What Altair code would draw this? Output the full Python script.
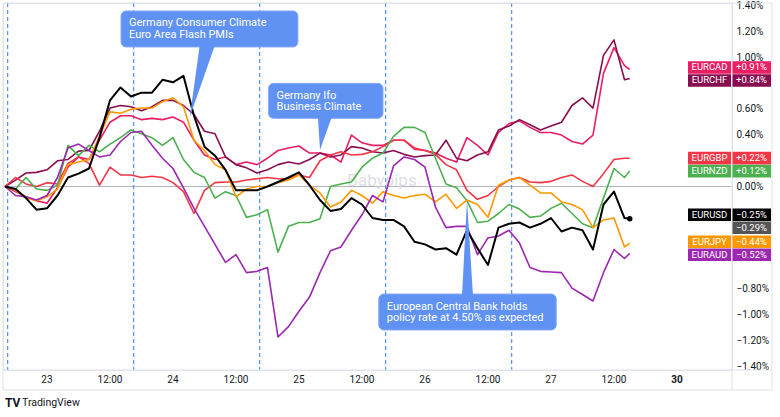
import pandas as pd
import altair as alt

# ---------------- data (hours from 23rd 00:00, trading time; values in %) ----------------
hours = list(range(-8, 111, 2)) + [111]

pairs = ["EURCAD", "EURCHF", "EURGBP", "EURNZD", "EURJPY", "EURAUD", "EURUSD"]
colors = ["#E91E63", "#880E4F", "#F23645", "#4CAF50", "#FF9800", "#9C27B0", "#000000"]

eurusd = [0.00, -0.02, -0.09, -0.18, -0.17, -0.07, 0.07, 0.10, 0.14, 0.38,
          0.67, 0.77, 0.70, 0.73, 0.73, 0.83, 0.81, 0.86, 0.55, 0.31,
          0.24, 0.13, -0.03, -0.03, -0.03, 0.00, 0.035, 0.07, 0.11, 0.01,
          -0.105, -0.19, -0.175, -0.09, -0.14, -0.245, -0.26, -0.26, -0.31, -0.43,
          -0.45, -0.49, -0.48, -0.53, -0.34, -0.48, -0.61, -0.32, -0.29, -0.28,
          -0.32, -0.29, -0.245, -0.35, -0.32, -0.34, -0.49, -0.14, -0.04, -0.245,
          -0.25]
eurjpy = [0.00, -0.03, -0.09, -0.11, -0.08, -0.02, 0.17, 0.19, 0.21, 0.39,
          0.58, 0.57, 0.60, 0.61, 0.61, 0.66, 0.69, 0.62, 0.36, 0.28,
          0.17, 0.13, -0.08, -0.02, 0.00, 0.00, 0.03, 0.05, 0.09, 0.01,
          -0.05, -0.16, -0.12, -0.03, -0.07, -0.13, -0.04, -0.07, -0.09, -0.07,
          -0.06, -0.12, -0.06, -0.17, -0.105, -0.14, -0.24, 0.01, 0.05, 0.07,
          0.01, -0.05, -0.05, -0.12, -0.14, -0.18, -0.32, -0.26, -0.245, -0.47,
          -0.44]
euraud = [0.00, -0.07, -0.08, -0.105, -0.07, 0.07, 0.30, 0.33, 0.28, 0.23,
          0.245, 0.35, 0.42, 0.43, 0.32, 0.22, 0.14, -0.01, -0.17, -0.31,
          -0.45, -0.59, -0.53, -0.67, -0.66, -0.63, -1.17, -1.09, -0.97, -0.86,
          -0.67, -0.50, -0.47, -0.34, -0.22, -0.07, -0.12, 0.16, 0.23, 0.21,
          0.15, -0.16, -0.32, -0.31, -0.31, -0.53, -0.40, -0.385, -0.34, -0.44,
          -0.63, -0.66, -0.665, -0.67, -0.79, -0.84, -0.89, -0.67, -0.49, -0.56,
          -0.52]
eurnzd = [0.00, -0.02, 0.07, -0.02, -0.03, 0.01, 0.32, 0.24, 0.32, 0.27,
          0.33, 0.38, 0.44, 0.41, 0.38, 0.32, 0.38, 0.21, 0.11, 0.07,
          -0.09, -0.04, -0.07, -0.24, -0.22, -0.18, -0.51, -0.31, -0.28, -0.28,
          -0.25, 0.00, 0.02, 0.035, 0.15, 0.22, 0.26, 0.39, 0.46, 0.46,
          0.42, 0.22, 0.02, -0.01, -0.11, -0.28, -0.27, -0.21, -0.14, -0.175,
          -0.24, -0.23, -0.17, -0.13, -0.21, -0.29, -0.32, -0.09, 0.14, 0.07,
          0.12]
eurgbp = [0.00, 0.07, 0.02, 0.00, 0.03, 0.02, 0.18, 0.23, 0.18, 0.01,
          0.15, 0.09, 0.09, 0.07, 0.08, 0.07, 0.03, -0.04, -0.21, -0.03,
          0.03, 0.035, 0.035, 0.05, 0.06, 0.07, 0.06, 0.06, 0.09, 0.07,
          0.20, 0.245, 0.27, 0.245, 0.25, 0.27, 0.31, 0.36, 0.36, 0.30,
          0.28, 0.25, 0.17, 0.13, -0.03, -0.10, -0.07, 0.00, 0.05, 0.07,
          0.035, 0.03, 0.04, 0.07, 0.09, 0.04, 0.00, 0.10, 0.21, 0.22,
          0.22]
eurcad = [0.00, -0.04, -0.08, -0.11, -0.13, -0.01, 0.15, 0.23, 0.21, 0.36,
          0.50, 0.55, 0.55, 0.52, 0.53, 0.52, 0.54, 0.50, 0.36, 0.245,
          0.21, 0.23, 0.17, 0.19, 0.17, 0.22, 0.28, 0.30, 0.315, 0.26,
          0.26, 0.245, 0.19, 0.40, 0.34, 0.32, 0.32, 0.36, 0.36, 0.29,
          0.28, 0.26, 0.22, 0.19, 0.38, 0.32, 0.245, 0.42, 0.49, 0.51,
          0.46, 0.42, 0.42, 0.40, 0.35, 0.33, 0.40, 0.88, 1.08, 0.94,
          0.91]
eurchf = [0.00, 0.05, 0.105, 0.11, 0.13, 0.20, 0.21, 0.275, 0.28, 0.43,
          0.61, 0.63, 0.62, 0.59, 0.62, 0.67, 0.67, 0.63, 0.56, 0.43,
          0.41, 0.23, 0.17, 0.145, 0.105, 0.13, 0.17, 0.19, 0.175, 0.21,
          0.26, 0.23, 0.245, 0.31, 0.30, 0.27, 0.26, 0.28, 0.25, 0.23,
          0.24, 0.245, 0.36, 0.22, 0.20, 0.245, 0.27, 0.44, 0.47, 0.52,
          0.48, 0.44, 0.47, 0.50, 0.63, 0.69, 0.61, 1.02, 1.14, 0.83,
          0.84]

series = {"EURCAD": eurcad, "EURCHF": eurchf, "EURGBP": eurgbp, "EURNZD": eurnzd,
          "EURJPY": eurjpy, "EURAUD": euraud, "EURUSD": eurusd}

x_ticks = [0, 12, 24, 36, 48, 60, 72, 84, 96, 108, 120]
x_labels = ["23", "12:00", "24", "12:00", "25", "12:00", "26", "12:00", "27", "12:00", "30"]
y_ticks = [-1.4, -1.2, -1.0, -0.8, -0.6, -0.4, -0.2, 0.0, 0.2, 0.4, 0.6, 0.8, 1.0, 1.2, 1.4]
session_breaks = [-7.5, 16.5, 40.5, 64.5, 88.5]

label_names = ["EURCAD", "EURCHF", "EURGBP", "EURNZD", "EURUSD", "", "EURJPY", "EURAUD"]
label_values = [0.91, 0.84, 0.22, 0.12, -0.25, -0.29, -0.44, -0.52]
label_colors = ["#E91E63", "#880E4F", "#F23645", "#4CAF50", "#000000", "#555555", "#FF9800", "#9C27B0"]

note_lines = [["Germany Consumer Climate", "Euro Area Flash PMIs"],
              ["Germany Ifo", "Business Climate"],
              ["European Central Bank holds", "policy rate at 4.50% as expected"]]
note_box_x = [(14.1, 47.8), (42.2, 64.0), (63.2, 97.0)]
note_box_y = [(1.085, 1.365), (0.530, 0.802), (-1.116, -0.836)]
note_base_x = [(29.1, 32.0), (51.6, 54.3), (79.05, 81.15)]
note_tip = [(27.2, 0.54), (52.0, 0.284), (80.0, -0.105)]

# ---------------- layout ----------------
W, H = 729, 367
XMIN, XMAX = -8.38, 130.48
YMIN, YMAX = -1.427, 1.427
PX_H = W / (XMAX - XMIN)
PX_P = H / (YMAX - YMIN)
FONT = "Roboto"
CALLOUT = "#6092F4"
FRAME = "#E0E3EB"
AXIS_TXT = "#131722"

xs = alt.Scale(domain=[XMIN, XMAX], nice=False, zero=False)
ys = alt.Scale(domain=[YMIN, YMAX], nice=False, zero=False)


def X(f):
    return alt.X(f, scale=xs, axis=None)


def Y(f):
    return alt.Y(f, scale=ys, axis=None)


line_df = pd.DataFrame([{"h": h, "v": v, "pair": p}
                        for p in pairs for h, v in zip(hours, series[p])])
one = pd.DataFrame({"a": [0]})

zero_rule = alt.Chart(pd.DataFrame({"v": [0.0]})).mark_rule(color="#B2B5BE", strokeWidth=1).encode(
    y=Y("v:Q"))

sessions = alt.Chart(pd.DataFrame({"h": session_breaks})).mark_rule(
    color="#5B97F8", strokeDash=[4, 3], strokeWidth=1.3, opacity=1).encode(x=X("h:Q"))

watermark = alt.Chart(one).mark_text(text="Babypips", font=FONT, fontSize=17, color="#DDDFE3",
                                     align="center", baseline="middle").encode(
    x=alt.value(379), y=alt.value(178))

others = alt.Chart(line_df[line_df.pair != "EURUSD"]).mark_line(
    strokeWidth=1.6, strokeJoin="round").encode(
    x=X("h:Q"), y=Y("v:Q"),
    color=alt.Color("pair:N", scale=alt.Scale(domain=pairs, range=colors), legend=None))

usd_df = line_df[line_df.pair == "EURUSD"]
usd = alt.Chart(usd_df).mark_line(color="#000000", strokeWidth=2, strokeJoin="round").encode(
    x=X("h:Q"), y=Y("v:Q"))
usd_dot = alt.Chart(usd_df.tail(1)).mark_circle(color="#000000", size=30, opacity=1).encode(
    x=X("h:Q"), y=Y("v:Q"))

# callouts
box_df = pd.DataFrame({"x0": [b[0] for b in note_box_x], "x1": [b[1] for b in note_box_x],
                       "y0": [b[0] for b in note_box_y], "y1": [b[1] for b in note_box_y]})
boxes = alt.Chart(box_df).mark_rect(cornerRadius=5, fill=CALLOUT, stroke="#86ABF7", strokeWidth=1).encode(
    x=X("x0:Q"), x2="x1:Q", y=Y("y0:Q"), y2="y1:Q")

tri_rows = []
for i in range(3):
    by = note_box_y[i]
    tip_x, tip_y = note_tip[i]
    base_y = by[0] + 2 / PX_P if tip_y < by[0] else by[1] - 2 / PX_P
    tri_rows.append({"id": i, "y": base_y, "xl": note_base_x[i][0], "xr": note_base_x[i][1]})
    tri_rows.append({"id": i, "y": tip_y, "xl": tip_x, "xr": tip_x})
tris = alt.Chart(pd.DataFrame(tri_rows)).mark_area(orient="horizontal", color=CALLOUT, opacity=1).encode(
    y=Y("y:Q"), x=X("xl:Q"), x2="xr:Q", detail="id:N")

txt_rows = []
for i, lines in enumerate(note_lines):
    for k, t in enumerate(lines):
        txt_rows.append({"x": note_box_x[i][0] + 8 / PX_H,
                         "y": note_box_y[i][1] - (12.5 + 11.5 * k) / PX_P, "t": t})
note_txt = alt.Chart(pd.DataFrame(txt_rows)).mark_text(
    align="left", baseline="middle", color="white", font=FONT, fontSize=11).encode(
    x=X("x:Q"), y=Y("y:Q"), text="t:N")


# right-hand labels, spread so they do not overlap
def spread(vals, gap):
    idx = sorted(range(len(vals)), key=lambda i: -vals[i])

    def pos(c):
        m = sum(vals[j] for j in c) / len(c)
        return [m + ((len(c) - 1) / 2 - k) * gap for k in range(len(c))]

    clusters = []
    for i in idx:
        clusters.append([i])
        while len(clusters) > 1:
            a, b = clusters[-2], clusters[-1]
            if pos(a)[-1] - pos(b)[0] < gap - 1e-9:
                clusters[-2:] = [a + b]
            else:
                break
    out = [0.0] * len(vals)
    for c in clusters:
        for j, p in zip(c, pos(c)):
            out[j] = p
    return out


lab_pos = spread(label_values, 13 / PX_P)
half = 6.3 / PX_P
lab_df = pd.DataFrame({
    "name": label_names, "col": label_colors, "pos": lab_pos,
    "top": [p + half for p in lab_pos], "bot": [p - half for p in lab_pos],
    "val": [f"{v:+.2f}%".replace("-", "\u2212") for v in label_values]})

# axis labels (drawn as text); like the price scale, those hidden by a value box are skipped
shown_ticks = [v for v in y_ticks if min(abs(v - p) * PX_P for p in lab_pos) > 9.5]
ylab_df = pd.DataFrame({"v": shown_ticks,
                        "t": [f"{v:.2f}%".replace("-", "\u2212") for v in shown_ticks]})
ylabels = alt.Chart(ylab_df).mark_text(
    align="left", baseline="middle", font=FONT, fontSize=10, color=AXIS_TXT).encode(
    x=alt.value(733.5), y=Y("v:Q"), text="t:N")

xlab_df = pd.DataFrame({"h": x_ticks, "t": x_labels})
xlabels = alt.Chart(xlab_df[xlab_df.t != "30"]).mark_text(
    align="center", baseline="middle", font=FONT, fontSize=10, color=AXIS_TXT).encode(
    x=X("h:Q"), y=alt.value(377), text="t:N")
xlabels_b = alt.Chart(xlab_df[xlab_df.t == "30"]).mark_text(
    align="center", baseline="middle", font=FONT, fontSize=10, fontWeight="bold", color=AXIS_TXT).encode(
    x=X("h:Q"), y=alt.value(377), text="t:N")

name_box = alt.Chart(lab_df[lab_df.name != ""]).mark_rect().encode(
    x=alt.value(685), x2=alt.value(728), y=Y("top:Q"), y2="bot:Q",
    color=alt.Color("col:N", scale=None))
val_box = alt.Chart(lab_df).mark_rect().encode(
    x=alt.value(729), x2=alt.value(768), y=Y("top:Q"), y2="bot:Q",
    color=alt.Color("col:N", scale=None))
name_txt = alt.Chart(lab_df[lab_df.name != ""]).mark_text(
    color="white", font=FONT, fontSize=9.5, align="center", baseline="middle").encode(
    x=alt.value(706.5), y=Y("pos:Q"), text="name:N")
val_txt = alt.Chart(lab_df).mark_text(
    color="white", font=FONT, fontSize=9.5, align="center", baseline="middle").encode(
    x=alt.value(748.5), y=Y("pos:Q"), text="val:N")

# frame pieces
corner = alt.Chart(one).mark_rect(fill="white").encode(
    x=alt.value(729.5), x2=alt.value(769), y=alt.value(367.5), y2=alt.value(387))
outer = alt.Chart(one).mark_rect(fill="white", fillOpacity=0, stroke=FRAME, strokeWidth=1).encode(
    x=alt.value(0), x2=alt.value(769), y=alt.value(0), y2=alt.value(387))
hline = alt.Chart(one).mark_rule(color=FRAME, strokeWidth=1).encode(
    x=alt.value(0), x2=alt.value(769), y=alt.value(367))
vline = alt.Chart(one).mark_rule(color=FRAME, strokeWidth=1).encode(
    x=alt.value(729), y=alt.value(0), y2=alt.value(387))

logo = alt.Chart(one).mark_text(text="TV", font=FONT, fontSize=12, fontWeight="bold",
                                color="#131722", align="left", baseline="middle").encode(
    x=alt.value(2), y=alt.value(400))
logo_txt = alt.Chart(one).mark_text(text="TradingView", font=FONT, fontSize=10.5,
                                    color="#131722", align="left", baseline="middle").encode(
    x=alt.value(19), y=alt.value(400))

chart = alt.layer(
    zero_rule, sessions, watermark, others, usd, usd_dot,
    boxes, tris, note_txt,
    ylabels, xlabels, xlabels_b,
    name_box, val_box, name_txt, val_txt,
    corner, outer, hline, vline, logo, logo_txt
).properties(
    width=W, height=H,
    autosize=alt.AutoSizeParams(type="none"),
    padding={"left": 3, "top": 3, "right": 48, "bottom": 47},
    background="white"
).configure_view(stroke=FRAME, strokeWidth=1)

chart.save("out.html", embed_options={"renderer": "svg", "actions": False})
